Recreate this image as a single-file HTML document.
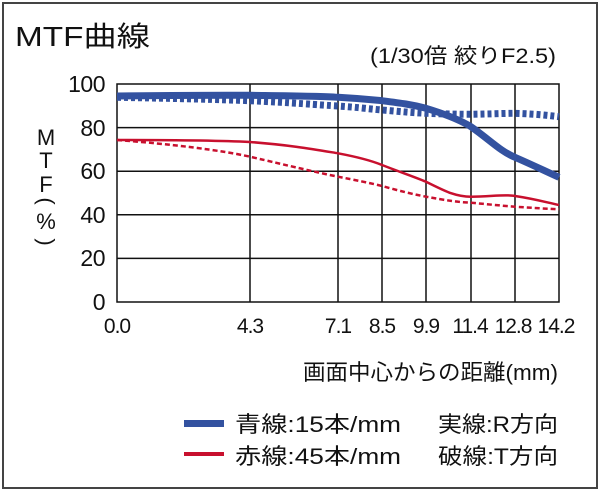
<!DOCTYPE html>
<html><head><meta charset="utf-8"><style>
body{margin:0;background:#fff}
svg text{font-family:"Liberation Sans","Noto Sans CJK JP",sans-serif;fill:#111}
</style></head><body>
<svg width="600" height="491" viewBox="0 0 600 491" xmlns="http://www.w3.org/2000/svg">
<rect x="3" y="3" width="594" height="485" fill="#fff" stroke="#444" stroke-width="2"/>
<text x="15" y="46" font-size="28" textLength="135" lengthAdjust="spacingAndGlyphs">MTF曲線</text>
<text x="370" y="63" font-size="21" textLength="186" lengthAdjust="spacingAndGlyphs">(1/30倍 絞りF2.5)</text>
<g stroke="#111" stroke-width="1.5" fill="none">
<rect x="117" y="84" width="442" height="218"/>
<line x1="117" y1="127.6" x2="559" y2="127.6"/>
<line x1="117" y1="171.2" x2="559" y2="171.2"/>
<line x1="117" y1="214.8" x2="559" y2="214.8"/>
<line x1="117" y1="258.4" x2="559" y2="258.4"/>
<line x1="250" y1="84" x2="250" y2="302"/>
<line x1="338" y1="84" x2="338" y2="302"/>
<line x1="382" y1="84" x2="382" y2="302"/>
<line x1="426" y1="84" x2="426" y2="302"/>
<line x1="471" y1="84" x2="471" y2="302"/>
<line x1="515" y1="84" x2="515" y2="302"/>
</g>
<g font-size="23" text-anchor="end" letter-spacing="-0.5">
<text x="105" y="92">100</text><text x="105" y="136">80</text><text x="105" y="179">60</text>
<text x="105" y="223">40</text><text x="105" y="266">20</text><text x="105" y="310">0</text>
</g>
<g font-size="22" text-anchor="middle">
<text x="46" y="145">M</text><text x="46" y="168">T</text><text x="46" y="192">F</text>
<text x="46" y="208" transform="rotate(90 46 201)">(</text>
<text x="46" y="229">%</text>
<text x="46" y="249" transform="rotate(90 46 242)">)</text>
</g>
<g font-size="21" text-anchor="middle" letter-spacing="-1">
<text x="117" y="333">0.0</text><text x="250" y="333">4.3</text><text x="338" y="333">7.1</text>
<text x="382" y="333">8.5</text><text x="426" y="333">9.9</text><text x="470" y="333">11.4</text>
<text x="513" y="333">12.8</text><text x="556" y="333">14.2</text>
</g>
<text x="303" y="380" font-size="22" textLength="255" lengthAdjust="spacingAndGlyphs">画面中心からの距離(mm)</text>
<g fill="none" stroke-linecap="butt">
<path d="M117,97.3 C180,98.5 220,99.5 250,100.7 C290,102.5 320,105 338,106 C360,107.5 370,109 382,110 C400,111.5 410,112.5 426,113.3 C445,114 460,114.3 471,114.3 C490,114 505,113.3 515,113.3 C535,114 545,115 559,116.7" stroke="#3352a0" stroke-width="7" stroke-dasharray="4 3"/>
<path d="M117,96 C180,95.3 220,95 250,95.3 C290,95.8 320,96 338,97.3 C360,98.5 370,99.5 382,100.7 C400,103 412,104.5 426,108.3 C445,114 460,120 471,126.7 C490,140 500,151 515,157.3 C535,166 545,171 559,177.3" stroke="#3352a0" stroke-width="7"/>
<path d="M117,140 C170,140 220,140.5 250,142 C290,145 315,149.5 338,153.3 C355,156.5 370,160 382,165 C400,172 412,176 426,181.7 C445,191 455,196.7 471,196.7 C490,196.7 505,194 515,196 C535,199 545,202 559,205" stroke="#c8102e" stroke-width="2.5"/>
<path d="M117,140 C170,144 220,150 250,156.7 C290,166 315,172 338,176.7 C355,180 370,183 382,186 C400,191 412,194 426,196.7 C445,200 455,202 471,202.7 C490,204.5 505,206 515,206.7 C535,208 545,208.7 559,209.3" stroke="#c8102e" stroke-width="2.5" stroke-dasharray="5 3"/>
</g>
<rect x="184" y="420" width="40" height="7" fill="#3352a0"/>
<rect x="184" y="452" width="40" height="4" fill="#c8102e"/>
<g font-size="22">
<text x="235" y="432" textLength="166" lengthAdjust="spacingAndGlyphs">青線:15本/mm</text>
<text x="235" y="464" textLength="166" lengthAdjust="spacingAndGlyphs">赤線:45本/mm</text>
<text x="438" y="432" textLength="120" lengthAdjust="spacingAndGlyphs">実線:R方向</text>
<text x="438" y="464" textLength="120" lengthAdjust="spacingAndGlyphs">破線:T方向</text>
</g>
</svg>
</body></html>
